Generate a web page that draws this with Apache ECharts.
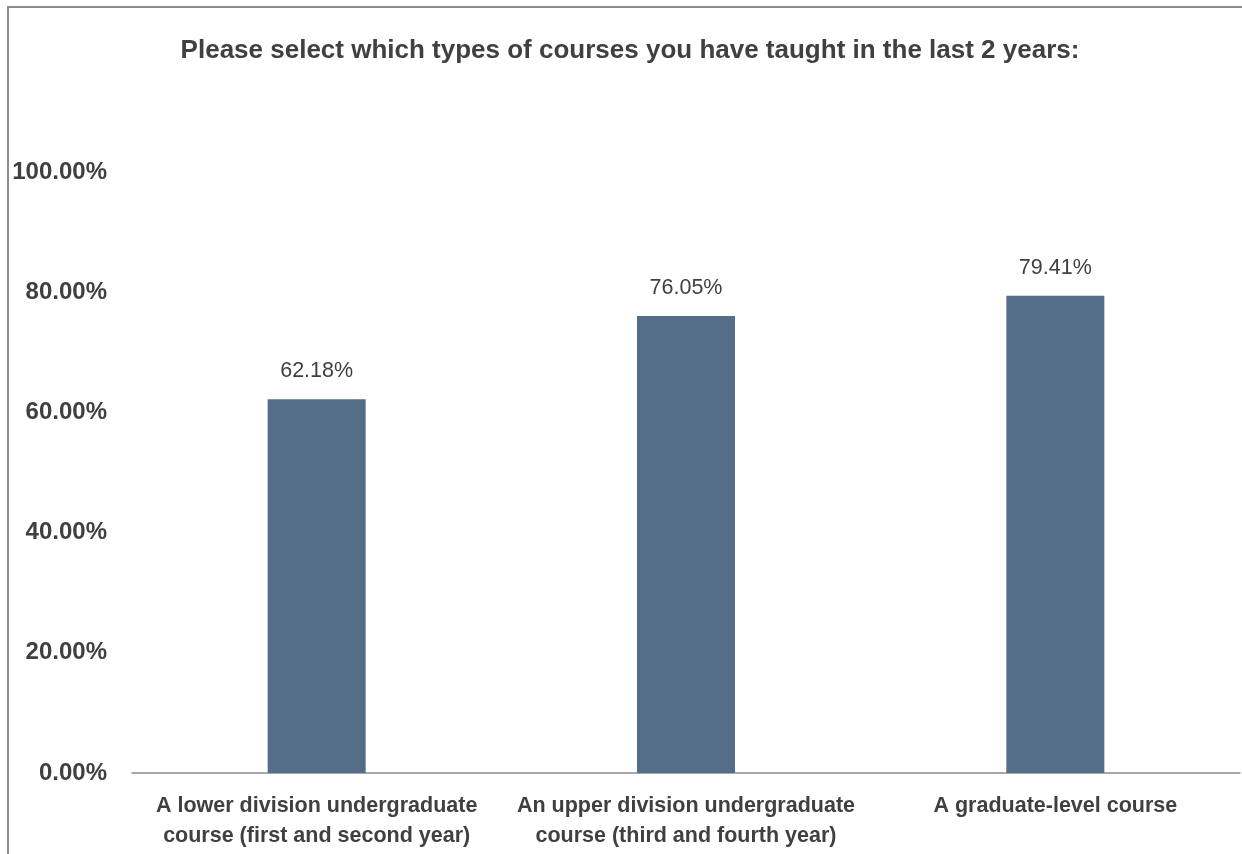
<!DOCTYPE html>
<html>
<head>
<meta charset="utf-8">
<script src="https://cdn.jsdelivr.net/npm/echarts@6/dist/echarts.min.js"></script>
<style>
  html, body { margin: 0; padding: 0; background: #ffffff; }
  #chart { width: 1242px; height: 854px; }
</style>
</head>
<body>
<div id="chart"></div>
<script>
// Survey question and answer shares
const titleText = 'Please select which types of courses you have taught in the last 2 years:';
const categories = [
  'A lower division undergraduate\ncourse (first and second year)',
  'An upper division undergraduate\ncourse (third and fourth year)',
  'A graduate-level course'
];
const shares = [0.6218, 0.7605, 0.7941];

const FONT = '"Liberation Sans", Arial, sans-serif';
const TEXT = '#404040';
const BAR = '#546d89';

const chart = echarts.init(document.getElementById('chart'), null, { renderer: 'canvas' });
chart.setOption({
  backgroundColor: '#ffffff',
  animation: false,
  title: {
    text: titleText,
    left: 625,
    top: 33,
    textAlign: 'center',
    textStyle: { fontFamily: FONT, fontSize: 26, fontWeight: 'bold', color: TEXT }
  },
  graphic: [{
    type: 'rect',
    shape: { x: 8, y: 7, width: 1400, height: 1000 },
    style: { fill: 'none', stroke: '#8c8c8c', lineWidth: 2 },
    silent: true
  }],
  grid: { left: 132, right: 2, top: 172, bottom: 81, containLabel: false, outerBoundsMode: 'none' },
  xAxis: {
    type: 'category',
    data: categories,
    axisLine: { show: true, lineStyle: { color: '#8c8c8c', width: 1.5 } },
    axisTick: { show: false },
    axisLabel: {
      interval: 0,
      margin: 18,
      fontFamily: FONT, fontSize: 21.5, fontWeight: 'bold', color: TEXT,
      lineHeight: 30
    }
  },
  yAxis: {
    type: 'value',
    min: 0, max: 1, interval: 0.2,
    axisLine: { show: false },
    axisTick: { show: false },
    splitLine: { show: false },
    axisLabel: {
      margin: 25,
      fontFamily: FONT, fontSize: 24, fontWeight: 'bold', color: TEXT,
      formatter: v => (v * 100).toFixed(2) + '%'
    }
  },
  series: [{
    type: 'bar',
    data: shares,
    barWidth: 98,
    itemStyle: { color: BAR },
    label: {
      show: true,
      position: 'top',
      distance: 17,
      fontFamily: FONT, fontSize: 21.5, color: TEXT,
      formatter: p => (p.value * 100).toFixed(2) + '%'
    }
  }]
});
</script>
</body>
</html>
